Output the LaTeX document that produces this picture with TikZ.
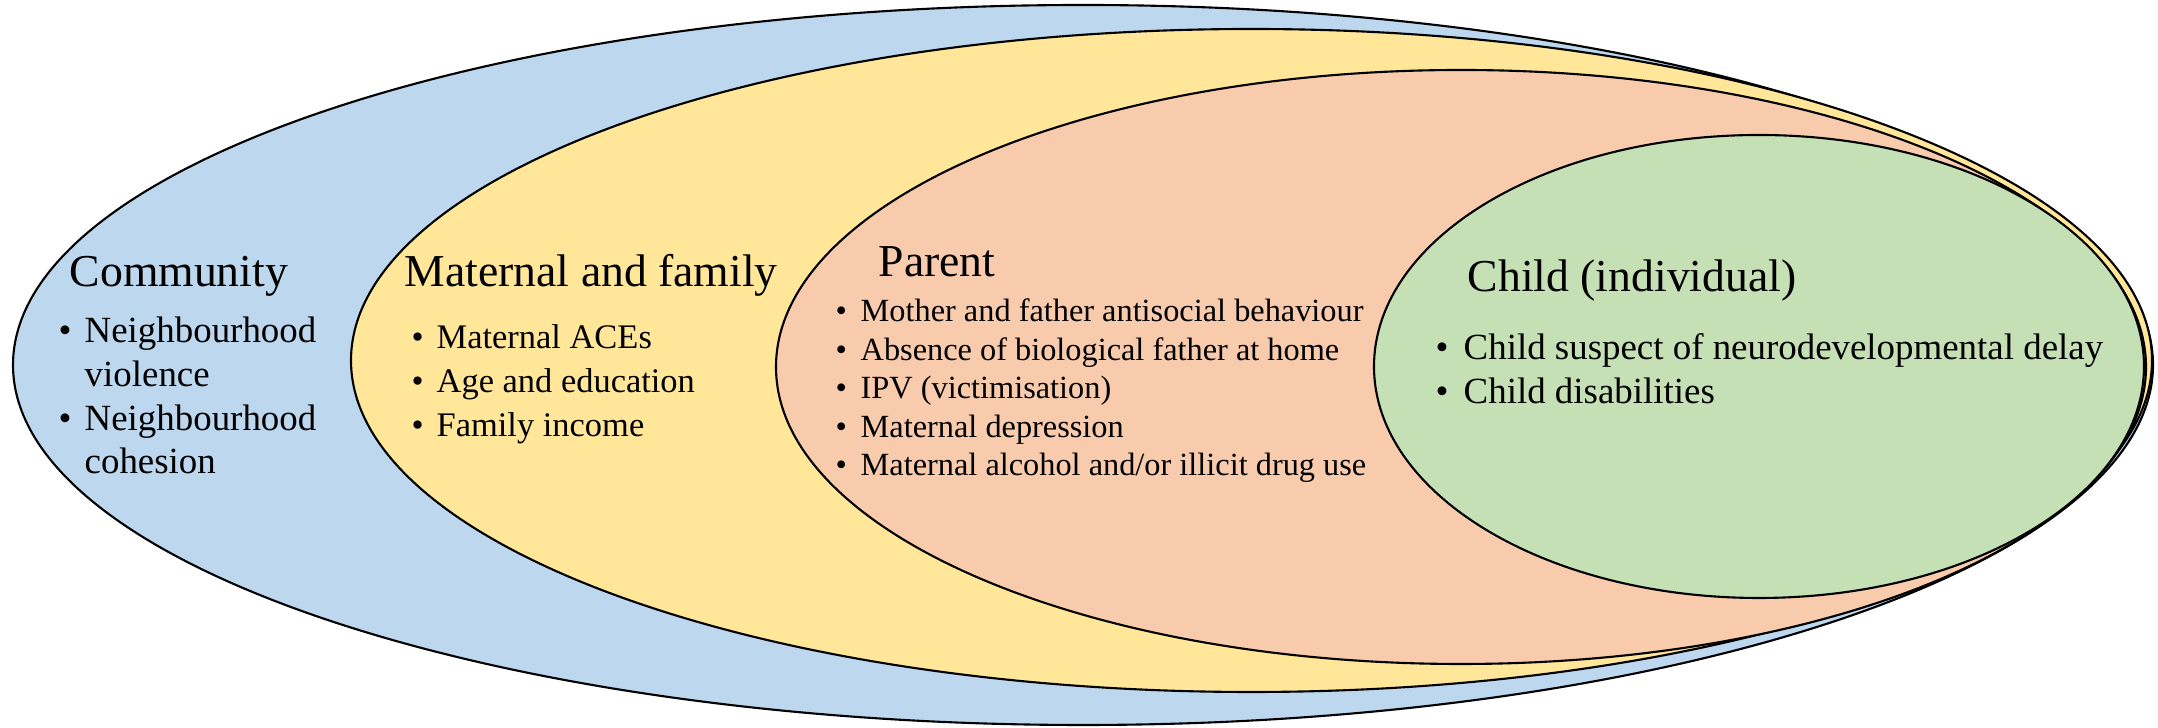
\documentclass[tikz,border=0pt]{standalone}
\usepackage{fontspec}
\setmainfont{Liberation Serif}
\usepackage{tikz}

\definecolor{commblue}{HTML}{BDD7EE}
\definecolor{famyellow}{HTML}{FFE699}
\definecolor{parorange}{HTML}{F8CBAD}
\definecolor{kidgreen}{HTML}{C5E0B4}

% bullet with a fixed hang
\newcommand{\blt}[1]{\makebox[#1][l]{\textbullet}}

\begin{document}
\begin{tikzpicture}[
    ring/.style={draw=black,line width=0.6pt},
    title/.style={anchor=base west,inner sep=0pt,font=\fontsize{13}{15}\selectfont},
    items/.style={anchor=base west,inner sep=0pt}]
  \useasboundingbox (0,0) rectangle (21.58,7.28);
  %%% the levels, outer to inner
  \draw[ring,fill=commblue] (10.83,3.63) ellipse (10.70 and 3.60);      % community
  \draw[ring,fill=famyellow] (12.515,3.675) ellipse (9.005 and 3.315);  % maternal and family
  \draw[ring,fill=parorange] (14.61,3.61) ellipse (6.85 and 2.97);      % parent
  \draw[ring,fill=kidgreen] (17.59,3.615) ellipse (3.85 and 2.315);     % child
  %%% community
  \node[title] (comm) at (0.69,4.41) {Community};
  \node[items,font=\fontsize{10.5}{12.4}\selectfont] (commlist) at (0.58,3.85)
    {\begin{tabular}[t]{@{}l@{}}
      \blt{0.26cm}Neighbourhood\\ \hspace*{0.26cm}violence\\
      \blt{0.26cm}Neighbourhood\\ \hspace*{0.26cm}cohesion
     \end{tabular}};
  %%% maternal and family
  \node[title] (fam) at (4.04,4.41) {Maternal and family};
  \node[items,font=\fontsize{9.8}{12.4}\selectfont] (famlist) at (4.11,3.79)
    {\begin{tabular}[t]{@{}l@{}}
      \blt{0.25cm}Maternal ACEs\\ \blt{0.25cm}Age and education\\ \blt{0.25cm}Family income
     \end{tabular}};
  %%% parent
  \node[title] (par) at (8.78,4.515) {Parent};
  \node[items,font=\fontsize{9.2}{10.95}\selectfont] (parlist) at (8.35,4.06)
    {\begin{tabular}[t]{@{}l@{}}
      \blt{0.25cm}Mother and father antisocial behaviour\\
      \blt{0.25cm}Absence of biological father at home\\
      \blt{0.25cm}IPV (victimisation)\\
      \blt{0.25cm}Maternal depression\\
      \blt{0.25cm}Maternal alcohol and/or illicit drug use
     \end{tabular}};
  %%% child
  \node[title] (kid) at (14.67,4.36) {Child (individual)};
  \node[items,font=\fontsize{10.5}{12.4}\selectfont] (kidlist) at (14.35,3.68)
    {\begin{tabular}[t]{@{}l@{}}
      \blt{0.28cm}Child suspect of neurodevelopmental delay\\
      \blt{0.28cm}Child disabilities
     \end{tabular}};
\end{tikzpicture}
\end{document}
